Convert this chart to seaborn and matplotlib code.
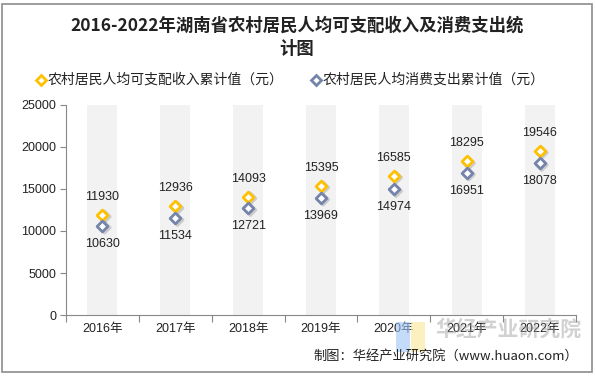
import matplotlib
matplotlib.use("Agg")
import matplotlib.pyplot as plt
import seaborn as sns
import pandas as pd
import numpy as np
from matplotlib.patches import Rectangle

years = ["2016年", "2017年", "2018年", "2019年", "2020年", "2021年", "2022年"]
income = [11930, 12936, 14093, 15395, 16585, 18295, 19546]
consume = [10630, 11534, 12721, 13969, 14974, 16951, 18078]
band = [25000] * 7
income_name = "农村居民人均可支配收入累计值（元）"
consume_name = "农村居民人均消费支出累计值（元）"
title = "2016-2022年湖南省农村居民人均可支配收入及消费支出统\n计图"
source = "制图：华经产业研究院（www.huaon.com）"

sns.set_theme(style="white")
plt.rcParams['font.family'] = ['Liberation Sans', 'Noto Sans CJK SC', 'DejaVu Sans']

df = pd.DataFrame({"year": years, "income": income, "consume": consume, "band": band})

fig = plt.figure(figsize=(5.95, 3.76), dpi=100)
ax = fig.add_axes([66/595, 1-315/376, (576-66)/595, (315-105)/376])

sns.barplot(data=df, x="year", y="band", color="#F2F2F2", width=0.41, ax=ax,
            saturation=1, edgecolor="none", zorder=0)

gold = "#FFC000"
slate = "#7484AA"
x = np.arange(len(years))
ms = 30
# shadows
ax.scatter(x + 0.03, np.array(income) - 220, marker="D", s=ms, facecolor="none",
           edgecolor="#000000", alpha=0.16, linewidths=2.2, zorder=2)
ax.scatter(x + 0.03, np.array(consume) - 220, marker="D", s=ms, facecolor="none",
           edgecolor="#000000", alpha=0.16, linewidths=2.2, zorder=2)
sns.scatterplot(data=df, x="year", y="income", marker="D", s=ms, color="white",
                edgecolor=gold, linewidth=2.0, ax=ax, zorder=3)
sns.scatterplot(data=df, x="year", y="consume", marker="D", s=ms, color="white",
                edgecolor=slate, linewidth=2.0, ax=ax, zorder=3)

for i in range(len(years)):
    ax.annotate(f"{income[i]}", (i, income[i]), xytext=(0, 13), textcoords="offset points",
                ha="center", va="center", fontsize=9, color="#222222")
    ax.annotate(f"{consume[i]}", (i, consume[i]), xytext=(0, -13), textcoords="offset points",
                ha="center", va="center", fontsize=9, color="#222222")

ax.set_xlim(-0.5, 6.5)
ax.set_ylim(0, 25000)
ax.set_yticks([0, 5000, 10000, 15000, 20000, 25000])
ax.set_xlabel("")
ax.set_ylabel("")
ax.set_xticks(x)
ax.set_xticklabels(years)
ax.tick_params(axis="x", length=0, labelsize=9, colors="#222222", pad=6)
ax.tick_params(axis="y", length=4, width=0.8, color="#888888", labelsize=9,
               labelcolor="#222222", direction="out", left=True, pad=3)
ax.set_xticks(np.arange(-0.5, 7.0, 1.0), minor=True)
ax.tick_params(axis="x", which="minor", length=5, width=0.8, color="#888888",
               direction="out", bottom=True)
for s in ["top", "right"]:
    ax.spines[s].set_visible(False)
for s in ["left", "bottom"]:
    ax.spines[s].set_color("#888888")
    ax.spines[s].set_linewidth(0.8)

# title
fig.text(297/595, 1-37/376, title, ha="center", va="center", fontsize=12.5,
         fontweight="bold", color="#222222", linespacing=1.4,
         family=['Noto Sans CJK SC', 'DejaVu Sans'])

# legend
ly = 1 - 80/376
fig.lines.append(plt.Line2D([41/595], [ly], marker="D", markersize=5, markerfacecolor="white",
                            markeredgecolor=gold, markeredgewidth=2, transform=fig.transFigure))
fig.text(48/595, ly, income_name, ha="left", va="center", fontsize=10, color="#222222",
         family=['Noto Sans CJK SC', 'DejaVu Sans'])
fig.lines.append(plt.Line2D([316/595], [ly], marker="D", markersize=5, markerfacecolor="white",
                            markeredgecolor=slate, markeredgewidth=2, transform=fig.transFigure))
fig.text(323/595, ly, consume_name, ha="left", va="center", fontsize=10, color="#222222",
         family=['Noto Sans CJK SC', 'DejaVu Sans'])

# watermark (logo blocks + faint text, drawn behind the axes labels)
fig.patches.append(Rectangle((396/595, 1-352/376), 14/595, 30/376, transform=fig.transFigure,
                             facecolor="#9EC4F5", alpha=0.6, edgecolor="none", zorder=0))
fig.patches.append(Rectangle((411/595, 1-352/376), 14/595, 30/376, transform=fig.transFigure,
                             facecolor="#FBE9A6", alpha=0.7, edgecolor="none", zorder=0))
fig.text(508/595, 1-329/376, "华经产业研究院", ha="center", va="center", fontsize=15,
         color="#9a9a9a", alpha=0.45, fontweight="bold", family=['Noto Sans CJK SC'], zorder=0)

# source
fig.text(578/595, 1-356/376, source, ha="right", va="center", fontsize=9.5, color="#222222",
         family=['Noto Sans CJK SC', 'DejaVu Sans'])

# border
fig.patches.append(Rectangle((2/595, 4/376), 590/595, 368/376, transform=fig.transFigure,
                             facecolor="none", edgecolor="#8c8c8c", linewidth=1.2))

fig.savefig("out.png", dpi=100)
